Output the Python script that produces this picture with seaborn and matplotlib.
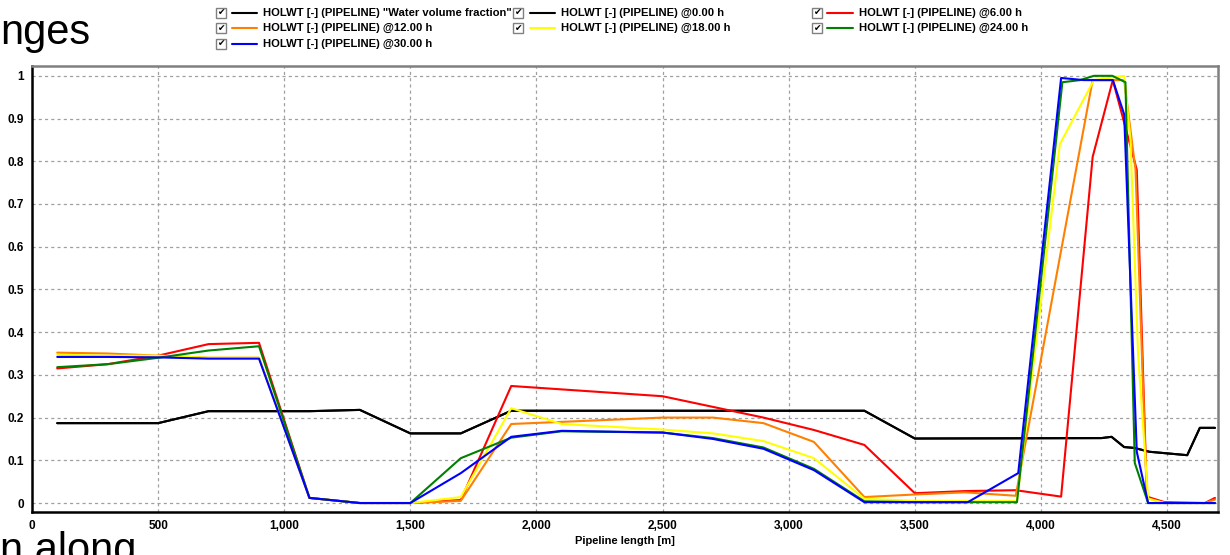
import matplotlib
matplotlib.use("Agg")
import matplotlib.pyplot as plt
import matplotlib.ticker as mticker
from matplotlib.lines import Line2D
from matplotlib.patches import Rectangle
import seaborn as sns

# profili HOLWT lungo la pipeline
x_wvf = [100, 500, 700, 1100, 1300, 1500, 1700, 1900, 3300, 3500, 4240, 4280, 4330, 4370, 4430, 4580, 4630, 4690]
y_wvf = [0.187, 0.187, 0.215, 0.215, 0.218, 0.163, 0.163, 0.216, 0.216, 0.151, 0.152, 0.155, 0.131, 0.129, 0.12, 0.112, 0.176, 0.176]

x_00 = x_wvf
y_00 = y_wvf

x_06 = [100, 300, 500, 700, 900, 1100, 1300, 1500, 1700, 1900, 2500, 2900, 3100, 3300, 3500, 3700, 3900, 4080, 4205,
        4285, 4380, 4420, 4490, 4650, 4690]
y_06 = [0.315, 0.325, 0.345, 0.372, 0.375, 0.012, 0.0, 0.0, 0.007, 0.274, 0.25, 0.2, 0.171, 0.136, 0.023, 0.028, 0.03,
        0.015, 0.81, 0.99, 0.78, 0.015, 0.002, 0.0, 0.012]

x_12 = [100, 300, 500, 700, 900, 1100, 1300, 1500, 1700, 1900, 2100, 2500, 2700, 2900, 3100, 3300, 3500, 3700, 3900,
        4205, 4330, 4375, 4420, 4490, 4650, 4690]
y_12 = [0.352, 0.35, 0.345, 0.34, 0.34, 0.012, 0.0, 0.0, 0.005, 0.185, 0.19, 0.2, 0.2, 0.187, 0.143, 0.014, 0.02,
        0.025, 0.017, 0.99, 0.99, 0.78, 0.012, 0.0, 0.0, 0.008]

x_18 = [100, 300, 500, 700, 900, 1100, 1300, 1500, 1700, 1900, 2100, 2500, 2700, 2900, 3100, 3300, 3500, 3700, 3905,
        4075, 4210, 4330, 4355, 4385, 4425, 4490, 4690]
y_18 = [0.347, 0.345, 0.345, 0.34, 0.34, 0.012, 0.0, 0.0, 0.014, 0.222, 0.185, 0.172, 0.163, 0.145, 0.105, 0.01,
        0.005, 0.005, 0.005, 0.84, 0.99, 1.0, 0.85, 0.35, 0.01, 0.0, 0.0]

x_24 = [100, 300, 500, 700, 900, 1100, 1300, 1500, 1700, 1900, 2100, 2500, 2700, 2900, 3100, 3300, 3500, 3700, 3905,
        4085, 4155, 4210, 4283, 4335, 4372, 4425, 4690]
y_24 = [0.318, 0.325, 0.34, 0.357, 0.367, 0.012, 0.0, 0.0, 0.105, 0.153, 0.168, 0.165, 0.152, 0.13, 0.08, 0.004,
        0.002, 0.002, 0.002, 0.985, 0.99, 1.0, 1.0, 0.985, 0.094, 0.0, 0.0]

x_30 = [100, 300, 500, 700, 900, 1100, 1300, 1500, 1700, 1900, 2100, 2500, 2700, 2900, 3100, 3300, 3500, 3710, 3910,
        4080, 4170, 4285, 4330, 4380, 4425, 4690]
y_30 = [0.342, 0.342, 0.341, 0.338, 0.338, 0.012, 0.0, 0.0, 0.07, 0.155, 0.169, 0.165, 0.15, 0.127, 0.077, 0.002,
        0.002, 0.002, 0.07, 0.995, 0.99, 0.99, 0.91, 0.12, 0.0, 0.0]

labels = [
    'HOLWT [-] (PIPELINE) "Water volume fraction"',
    'HOLWT [-] (PIPELINE) @0.00 h',
    'HOLWT [-] (PIPELINE) @6.00 h',
    'HOLWT [-] (PIPELINE) @12.00 h',
    'HOLWT [-] (PIPELINE) @18.00 h',
    'HOLWT [-] (PIPELINE) @24.00 h',
    'HOLWT [-] (PIPELINE) @30.00 h',
]
colors = ['#000000', '#000000', '#ff0000', '#ff8000', '#ffff00', '#008000', '#0000ff']
xs = [x_wvf, x_00, x_06, x_12, x_18, x_24, x_30]
ys = [y_wvf, y_00, y_06, y_12, y_18, y_24, y_30]

sns.set_style("white")
plt.rcParams['font.family'] = ['Liberation Sans', 'DejaVu Sans']
plt.rcParams['font.weight'] = 'bold'
plt.rcParams['text.color'] = 'black'
plt.rcParams['xtick.color'] = 'black'
plt.rcParams['ytick.color'] = 'black'

W, H = 1230, 555
fig = plt.figure(figsize=(W / 100, H / 100), dpi=100)
ax = fig.add_axes([32 / W, 1 - 512 / H, 1186 / W, 446 / H])

for x, y, c in zip(xs, ys, colors):
    sns.lineplot(x=x, y=y, ax=ax, color=c, lw=1.5, estimator=None, sort=False, legend=False)

ax.set_xlim(0, 4702)
ax.set_ylim(-0.021, 1.023)
ax.xaxis.set_major_locator(mticker.MultipleLocator(500))
ax.yaxis.set_major_locator(mticker.MultipleLocator(0.1))
ax.xaxis.set_major_formatter(mticker.FuncFormatter(lambda v, p: f"{v:,.0f}"))
ax.yaxis.set_major_formatter(mticker.FuncFormatter(lambda v, p: f"{round(v, 1):g}"))
ax.tick_params(length=0, pad=6, labelsize=8.5, colors='black')
ax.grid(True, ls=(0, (2.5, 2.5)), color='#a0a0a0', lw=0.9)
ax.set_xlabel('')
ax.set_ylabel('')

for side in ['left', 'bottom']:
    ax.spines[side].set_color('black')
    ax.spines[side].set_linewidth(1.8)
for side in ['top', 'right']:
    ax.spines[side].set_color('#808080')
    ax.spines[side].set_linewidth(1.8)

fig.text(625 / W, 1 - 541 / H, 'Pipeline length [m]', ha='center', va='center', fontsize=8)

# legenda con caselle di spunta, 3 colonne
box_x = [216, 513, 812]
line_x = [(232, 257), (530, 555), (827, 853)]
text_x = [263, 561, 859]
rows_y = [12.7, 28.3, 43.7]
for i, (lab, c) in enumerate(zip(labels, colors)):
    r, k = divmod(i, 3)
    yy = rows_y[r]
    fy = 1 - yy / H
    fig.add_artist(Rectangle((box_x[k] / W, 1 - (yy + 5) / H), 10 / W, 10 / H, transform=fig.transFigure,
                             facecolor='white', edgecolor='#808080', lw=1))
    fig.text((box_x[k] + 5.5) / W, fy, '\u2714', ha='center', va='center', fontsize=6.5,
             family='DejaVu Sans', weight='bold')
    fig.add_artist(Line2D([line_x[k][0] / W, line_x[k][1] / W], [fy, fy], color=c, lw=1.5,
                          transform=fig.transFigure))
    fig.text(text_x[k] / W, fy, lab, ha='left', va='center', fontsize=8.1)

# testo della slide sottostante, tagliato
fig.text(0.0, 1 - 44 / H, 'nges', fontsize=30, weight='normal', va='baseline')
fig.text(0.0, 1 - 562 / H, 'n along', fontsize=30, weight='normal', va='baseline')

fig.savefig('out.png', dpi=100)
plt.close(fig)
